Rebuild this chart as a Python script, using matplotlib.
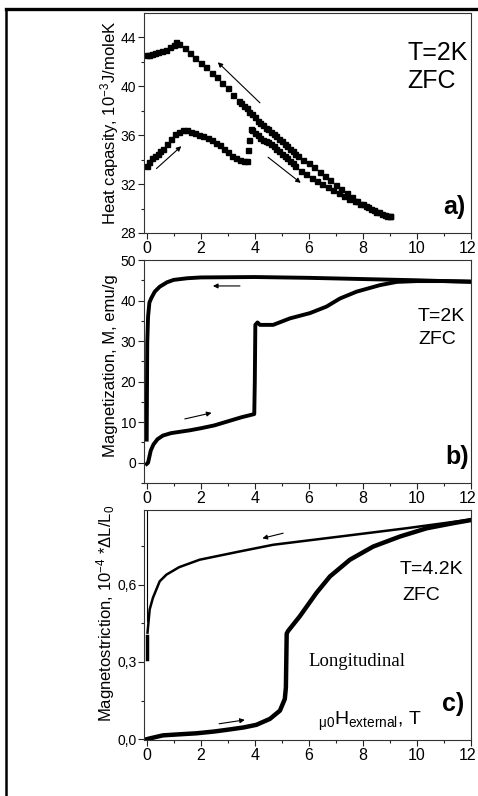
import matplotlib
matplotlib.use('Agg')
import matplotlib.pyplot as plt
import matplotlib.transforms as mtransforms
from matplotlib import font_manager
from matplotlib.lines import Line2D
from matplotlib.ticker import FixedLocator


def has_font(name):
    try:
        font_manager.findfont(font_manager.FontProperties(family=name),
                              fallback_to_default=False)
        return True
    except Exception:
        return False


SANS = 'Liberation Sans'
NARROW = 'Liberation Sans Narrow' if has_font('Liberation Sans Narrow') else SANS
SERIF = 'Liberation Serif'

plt.rcParams['font.family'] = [SANS, 'DejaVu Sans']
plt.rcParams['mathtext.default'] = 'regular'

# ---------------- data ----------------
# panel a: heat capacity (squares)
a_up_x = [0.0, 0.1, 0.2, 0.3, 0.4, 0.5, 0.6, 0.75, 0.9, 1.05, 1.2, 1.35, 1.5,
          1.65, 1.8, 1.95, 2.1, 2.25, 2.4, 2.55, 2.7, 2.85, 3.0, 3.15, 3.3,
          3.45, 3.6, 3.7, 3.75, 3.8, 3.85, 3.9, 4.0, 4.1, 4.2, 4.3, 4.4, 4.5,
          4.6, 4.7, 4.8, 4.9, 5.0, 5.1, 5.2, 5.3, 5.4, 5.5, 5.7, 5.9, 6.1,
          6.3, 6.5, 6.7, 6.9, 7.1, 7.3, 7.5, 7.7, 7.9, 8.1, 8.3, 8.5, 8.7,
          8.9, 9.0]
a_up_y = [33.5, 33.8, 34.1, 34.3, 34.5, 34.7, 34.9, 35.3, 35.7, 36.1, 36.3,
          36.4, 36.4, 36.3, 36.2, 36.0, 35.9, 35.8, 35.6, 35.4, 35.2, 34.9,
          34.6, 34.3, 34.1, 34.0, 33.9, 33.9, 34.8, 35.6, 36.5, 36.4, 36.2,
          36.0, 35.8, 35.6, 35.5, 35.45, 35.3, 35.1, 34.9, 34.7, 34.5, 34.3,
          34.1, 33.9, 33.7, 33.5, 33.1, 32.8, 32.5, 32.25, 32.0, 31.8, 31.55,
          31.3, 31.05, 30.8, 30.6, 30.4, 30.2, 29.95, 29.75, 29.55, 29.4,
          29.35]
a_down_x = [9.0, 8.8, 8.6, 8.4, 8.2, 8.0, 7.8, 7.6, 7.4, 7.2, 7.0, 6.8, 6.6,
            6.4, 6.2, 6.0, 5.8, 5.6, 5.5, 5.4, 5.3, 5.2, 5.1, 5.0, 4.9, 4.8,
            4.7, 4.6, 4.5, 4.4, 4.3, 4.2, 4.1, 4.0, 3.9, 3.8, 3.7, 3.6, 3.5,
            3.4, 3.2, 3.0, 2.8, 2.6, 2.4, 2.2, 2.0, 1.8, 1.6, 1.4, 1.2, 1.1,
            1.0, 0.85, 0.7, 0.55, 0.4, 0.3, 0.2, 0.1, 0.0]
a_down_y = [29.35, 29.5, 29.7, 29.9, 30.1, 30.35, 30.65, 30.95, 31.25, 31.6,
            31.95, 32.3, 32.65, 33.0, 33.4, 33.7, 34.0, 34.3, 34.5, 34.7,
            34.9, 35.1, 35.3, 35.5, 35.7, 35.9, 36.1, 36.3, 36.5, 36.6, 36.8,
            37.0, 37.2, 37.5, 37.7, 37.9, 38.2, 38.4, 38.6, 38.8, 39.3, 39.85,
            40.3, 40.75, 41.1, 41.55, 41.95, 42.35, 42.75, 43.1, 43.5, 43.6,
            43.4, 43.2, 43.0, 42.9, 42.8, 42.7, 42.65, 42.6, 42.55]

# panel b: magnetization
b_up_x = [0.0, 0.05, 0.1, 0.15, 0.25, 0.4, 0.6, 0.9, 1.2, 1.6, 2.0, 2.5, 3.0,
          3.5, 3.98, 4.0, 4.02, 4.1, 4.19, 4.68, 5.3, 6.04, 6.65, 7.15, 7.77,
          8.63, 9.25, 10.0, 11.0, 12.0]
b_up_y = [-0.3, 0.0, 1.5, 3.0, 4.5, 5.8, 6.7, 7.3, 7.6, 8.0, 8.5, 9.2, 10.2,
          11.2, 12.0, 20.0, 34.0, 34.6, 34.0, 34.0, 35.6, 36.9, 38.5, 40.5,
          42.2, 43.8, 44.6, 44.8, 44.8, 44.7]
b_down_x = [12.0, 10.0, 8.0, 6.0, 4.0, 2.0, 1.5, 1.0, 0.75, 0.48, 0.3, 0.17,
            0.1, 0.05, 0.02, 0.0]
b_down_y = [44.6, 45.0, 45.3, 45.6, 45.8, 45.7, 45.5, 45.1, 44.5, 43.4, 42.2,
            40.6, 39.5, 36.0, 29.5, 5.7]

# panel c: magnetostriction
c_up_x = [0.0, 0.11, 0.6, 1.2, 1.84, 2.5, 3.07, 3.6, 4.06, 4.56, 4.93, 5.11,
          5.15, 5.18, 5.23, 5.67, 6.28, 6.78, 7.52, 8.38, 9.37, 10.36, 11.35,
          12.0]
c_up_y = [0.0, 0.003, 0.015, 0.019, 0.023, 0.03, 0.038, 0.046, 0.056, 0.079,
          0.111, 0.156, 0.2, 0.41, 0.42, 0.478, 0.568, 0.632, 0.697, 0.748,
          0.787, 0.819, 0.839, 0.851]
c_down_x = [12.0, 9.6, 7.15, 4.68, 3.44, 1.96, 1.2, 0.73, 0.48, 0.23, 0.11,
            0.03, 0.0, 0.0]
c_down_y = [0.853, 0.819, 0.787, 0.755, 0.729, 0.697, 0.668, 0.639, 0.613,
            0.549, 0.504, 0.414, 0.40, 0.31]
c_zero_x = [0.0, 0.0]
c_zero_y = [0.46, 0.89]

x_ticks = [0, 2, 4, 6, 8, 10, 12]
x_ticklabels = ['0', '2', '4', '6', '8', '10', '12']
a_yticks = [28, 32, 36, 40, 44]
a_yticklabels = ['28', '32', '36', '40', '44']
b_yticks = [0, 10, 20, 30, 40, 50]
b_yticklabels = ['0', '10', '20', '30', '40', '50']
c_yticks = [0.0, 0.3, 0.6]
c_yticklabels = ['0,0', '0,3', '0,6']

# ---------------- figure ----------------
fig = plt.figure(figsize=(4.78, 7.96), dpi=100)

L, R = 144 / 478, 471 / 478


def frac(ytop, ybot):
    return [L, 1 - ybot / 796, R - L, (ybot - ytop) / 796]


axa = fig.add_axes(frac(13, 233))
axb = fig.add_axes(frac(260, 483))
axc = fig.add_axes(frac(510, 740))


def style(ax, yticks, ylabels, yminor, ylim):
    ax.set_xlim(-0.1, 12)
    ax.set_ylim(*ylim)
    ax.set_xticks(x_ticks)
    ax.set_xticklabels(x_ticklabels, fontsize=11.5)
    ax.xaxis.set_minor_locator(FixedLocator([1, 3, 5, 7, 9, 11]))
    ax.set_yticks(yticks)
    ax.set_yticklabels(ylabels, fontsize=10)
    ax.yaxis.set_minor_locator(FixedLocator(yminor))
    ax.tick_params(which='major', direction='out', length=4, width=0.8,
                   color='#222222', pad=1.5)
    ax.tick_params(which='minor', direction='out', length=2.5, width=0.8,
                   color='#222222')
    for s in ax.spines.values():
        s.set_linewidth(0.8)
        s.set_color('#333333')
    # keep the last x tick label ("12") inside the figure edge
    last = ax.get_xticklabels()[-1]
    last.set_transform(last.get_transform() +
                       mtransforms.ScaledTranslation(-3 / 100, 0,
                                                     fig.dpi_scale_trans))


style(axa, a_yticks, a_yticklabels, [30, 34, 38, 42], (28, 46))
style(axb, b_yticks, b_yticklabels, [-5, 5, 15, 25, 35, 45], (-5, 50))
style(axc, c_yticks, c_yticklabels, [0.15, 0.45, 0.75], (-0.003, 0.89))

# panel a
axa.plot(a_up_x, a_up_y, ls='none', marker='s', ms=3.6, color='black')
axa.plot(a_down_x, a_down_y, ls='none', marker='s', ms=3.6, color='black')

# panel b
axb.plot(b_down_x, b_down_y, color='black', lw=2.8, solid_joinstyle='round')
axb.plot(b_up_x, b_up_y, color='black', lw=2.8, solid_joinstyle='round')

# panel c
axc.plot(c_zero_x, c_zero_y, color='black', lw=0.8)
axc.plot(c_down_x[:-2], c_down_y[:-2], color='black', lw=1.8)
axc.plot(c_down_x[-2:], c_down_y[-2:], color='black', lw=2.5)
axc.plot(c_up_x, c_up_y, color='black', lw=3.2, solid_joinstyle='round')


def arrow(ax, tail, head):
    ax.annotate('', xy=head, xytext=tail,
                arrowprops=dict(arrowstyle='-|>', lw=0.8, color='black',
                                mutation_scale=7, shrinkA=0, shrinkB=0))


arrow(axa, (4.19, 38.65), (2.63, 41.97))
arrow(axa, (0.36, 33.27), (1.28, 35.1))
arrow(axa, (4.49, 34.2), (5.70, 32.1))
arrow(axb, (3.45, 43.6), (2.45, 43.6))
arrow(axb, (1.41, 10.8), (2.40, 12.3))
arrow(axc, (5.05, 0.80), (4.28, 0.78))
arrow(axc, (2.68, 0.06), (3.63, 0.075))


# annotations (pixel positions converted to figure fraction)
def ft(x, y, s, **kw):
    fig.text(x / 478, 1 - y / 796, s, **kw)


ft(407, 53, 'T=2K', fontsize=18, family=NARROW, va='center', ha='left')
ft(407, 81, 'ZFC', fontsize=18, family=NARROW, va='center', ha='left')
ft(454, 207, 'a)', fontsize=18, fontweight='bold', family=SANS,
   va='center', ha='center')

ft(418, 316, 'T=2K', fontsize=14, family=NARROW, va='center', ha='left')
ft(418, 340, 'ZFC', fontsize=14, family=NARROW, va='center', ha='left')
ft(457, 457, 'b)', fontsize=18, fontweight='bold', family=SANS,
   va='center', ha='center')

ft(400, 569, 'T=4.2K', fontsize=14, family=NARROW, va='center', ha='left')
ft(402, 595, 'ZFC', fontsize=14, family=NARROW, va='center', ha='left')
ft(357, 662, 'Longitudinal', fontsize=13.5, family=SERIF, va='center',
   ha='center')
ft(318, 721, r'$_{\mu0}$H$_{external}$, T', fontsize=14, family=NARROW,
   va='center', ha='left')
ft(453, 704, 'c)', fontsize=18, fontweight='bold', family=SANS,
   va='center', ha='center')

# y labels
ft(110, 123, r'Heat capasity, 10$^{-3}$J/moleK', fontsize=12,
   rotation=90, va='center', ha='center')
ft(110, 366, 'Magnetization, M, emu/g', fontsize=12, rotation=90,
   va='center', ha='center')
ft(106, 613, r'Magnetostriction, 10$^{-4}$ *ΔL/L$_0$', fontsize=12,
   rotation=90, va='center', ha='center')

# outer frame (left and top edges)
fig.add_artist(Line2D([6 / 478, 6 / 478], [0, 1 - 8.5 / 796],
                      transform=fig.transFigure, color='black', lw=1.8))
fig.add_artist(Line2D([6 / 478, 1], [1 - 8.5 / 796, 1 - 8.5 / 796],
                      transform=fig.transFigure, color='black', lw=2.4))

fig.savefig('out.png', dpi=100)
